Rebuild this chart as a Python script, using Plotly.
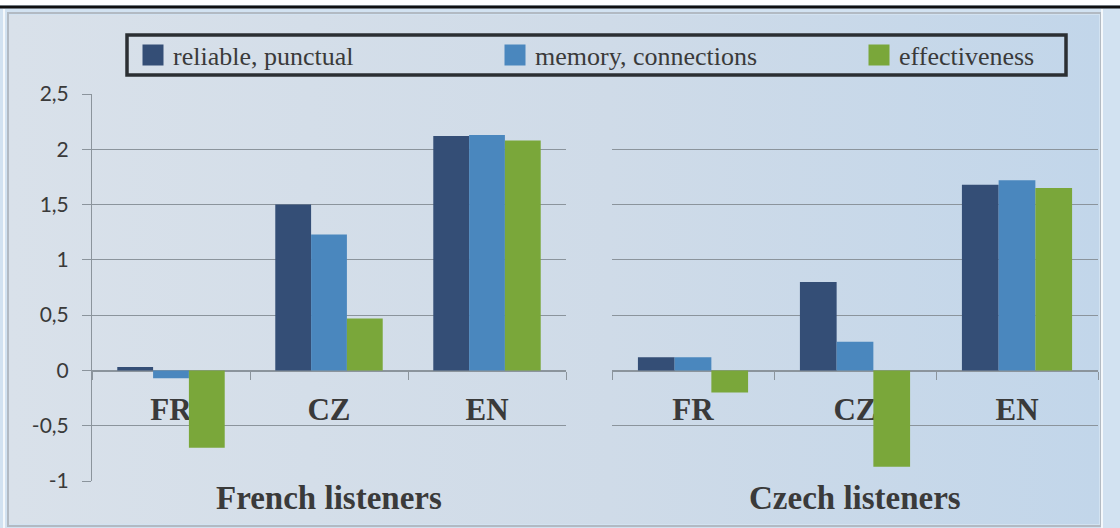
import base64
import plotly.graph_objects as go

# data
languages = ["FR", "CZ", "EN"]
series_names = ["reliable, punctual", "memory, connections", "effectiveness"]
series_colors = ["#344e76", "#4a87be", "#7aa73a"]

french_reliable = [0.03, 1.50, 2.12]
french_memory = [-0.07, 1.23, 2.13]
french_effective = [-0.70, 0.47, 2.08]

czech_reliable = [0.12, 0.80, 1.68]
czech_memory = [0.12, 0.26, 1.72]
czech_effective = [-0.20, -0.87, 1.65]

y_ticks = [-1, -0.5, 0, 0.5, 1, 1.5, 2, 2.5]
y_tick_labels = ["-1", "-0,5", "0", "0,5", "1", "1,5", "2", "2,5"]

panel_titles = ["French listeners", "Czech listeners"]

serif = "Liberation Serif"
grid_col = "#8b949c"
text_col = "#3a3a3a"
W, H = 1120, 528

# soft left-to-right gradient for the slide panel
svg = ('<svg xmlns="http://www.w3.org/2000/svg" width="100" height="100" preserveAspectRatio="none">'
       '<defs><linearGradient id="g" x1="0" y1="0" x2="1" y2="0">'
       '<stop offset="0" stop-color="#d9e1ea"/><stop offset="0.55" stop-color="#cfdbe8"/>'
       '<stop offset="1" stop-color="#c2d6ea"/></linearGradient></defs>'
       '<rect width="100" height="100" fill="url(#g)"/></svg>')
bg_src = "data:image/svg+xml;base64," + base64.b64encode(svg.encode()).decode()

fig = go.Figure()

french = [french_reliable, french_memory, french_effective]
czech = [czech_reliable, czech_memory, czech_effective]

for name, col, vals in zip(series_names, series_colors, french):
    fig.add_trace(go.Bar(x=languages, y=vals, name=name, marker_color=col,
                         marker_line_width=0, showlegend=False,
                         xaxis="x", yaxis="y"))
for name, col, vals in zip(series_names, series_colors, czech):
    fig.add_trace(go.Bar(x=languages, y=vals, name=name, marker_color=col,
                         marker_line_width=0, showlegend=False,
                         xaxis="x2", yaxis="y2"))

# one legend per entry so they can sit spread out like the slide
legend_ids = ["legend", "legend2", "legend3"]
for name, col, lid in zip(series_names, series_colors, legend_ids):
    fig.add_trace(go.Scatter(x=[None], y=[None], mode="markers", name=name,
                             marker=dict(symbol="square", size=16, color=col,
                                         line=dict(color=col, width=5)),
                             legend=lid, xaxis="x", yaxis="y"))

y_dom = [(H - 481) / H, (H - 94) / H]
zero_pos = (H - 371) / H

xaxis_common = dict(
    type="category", showgrid=False, showline=True, linecolor=grid_col,
    linewidth=1, ticks="outside", ticklen=8, tickcolor=grid_col,
    tickson="boundaries", anchor="free", position=zero_pos,
    layer="below traces", ticklabelstandoff=11,
    tickfont=dict(family=serif, size=31, color=text_col, weight="bold"),
)
yaxis_common = dict(
    range=[-1.0, 2.5], domain=y_dom, tickvals=y_ticks, ticktext=y_tick_labels,
    showgrid=True, gridcolor=grid_col, gridwidth=1, zeroline=False,
    layer="below traces",
)

legend_common = dict(orientation="h", yanchor="middle", y=(H - 55) / H,
                     xanchor="left", borderwidth=0,
                     bgcolor="rgba(0,0,0,0)", itemclick=False,
                     font=dict(family=serif, size=26, color=text_col))

fig.update_layout(
    width=W, height=H,
    margin=dict(l=0, r=0, t=0, b=0, autoexpand=False),
    paper_bgcolor="#d2e2f1",
    plot_bgcolor="rgba(0,0,0,0)",
    barmode="group", bargap=0.32, bargroupgap=0,
    xaxis=dict(domain=[92 / W, 566 / W], **xaxis_common),
    xaxis2=dict(domain=[612 / W, 1098 / W], **xaxis_common),
    yaxis=dict(anchor="x", showline=True, linecolor=grid_col, linewidth=1,
               ticks="outside", ticklen=9, tickcolor=grid_col,
               ticklabelstandoff=9,
               tickfont=dict(family="Lato", size=21, color=text_col),
               **yaxis_common),
    yaxis2=dict(anchor="x2", showline=False, showticklabels=False,
                ticks="", **yaxis_common),
    legend=dict(x=133 / W, **legend_common),
    legend2=dict(x=495 / W, **legend_common),
    legend3=dict(x=859 / W, **legend_common),
    images=[dict(source=bg_src, xref="paper", yref="paper",
                 x=9 / W, y=(H - 15) / H, sizex=1090 / W, sizey=(H - 19) / H,
                 xanchor="left", yanchor="top", sizing="stretch",
                 layer="below")],
    shapes=[
        # white edges around the slide panel
        dict(type="rect", xref="paper", yref="paper",
             x0=0, x1=1, y0=(H - 5) / H, y1=1,
             fillcolor="white", line=dict(width=0), layer="below"),
        dict(type="rect", xref="paper", yref="paper",
             x0=8 / W, x1=1101 / W, y0=2 / H, y1=(H - 13) / H,
             fillcolor="rgba(0,0,0,0)", line=dict(color="#b2bac3", width=2),
             layer="below"),
        dict(type="line", xref="paper", yref="paper",
             x0=4 / W, x1=4 / W, y0=0, y1=(H - 9) / H,
             line=dict(color="#f4f8fb", width=2), layer="below"),
        dict(type="line", xref="paper", yref="paper",
             x0=1102 / W, x1=1102 / W, y0=0, y1=(H - 9) / H,
             line=dict(color="#f4f8fb", width=2), layer="below"),
        # black rule at the top
        dict(type="line", xref="paper", yref="paper",
             x0=0, x1=1, y0=(H - 7) / H, y1=(H - 7) / H,
             line=dict(color="#111111", width=3), layer="above"),
        # legend frame
        dict(type="rect", xref="paper", yref="paper",
             x0=127 / W, x1=1066 / W, y0=(H - 75) / H, y1=(H - 35) / H,
             fillcolor="rgba(0,0,0,0)", line=dict(color="#2b2f33", width=3.5),
             layer="above"),
    ],
)

for i, t in enumerate(panel_titles):
    fig.add_annotation(text=t, xref=["x domain", "x2 domain"][i], yref="paper",
                       x=0.5, y=(H - 498) / H, yanchor="middle", showarrow=False,
                       font=dict(family=serif, size=33, color=text_col,
                                 weight="bold"))

# the page's default 8px body margin would push the figure off the window
fig.write_html("out.html", config={"displayModeBar": False},
               post_script="document.body.style.margin='0px';")
